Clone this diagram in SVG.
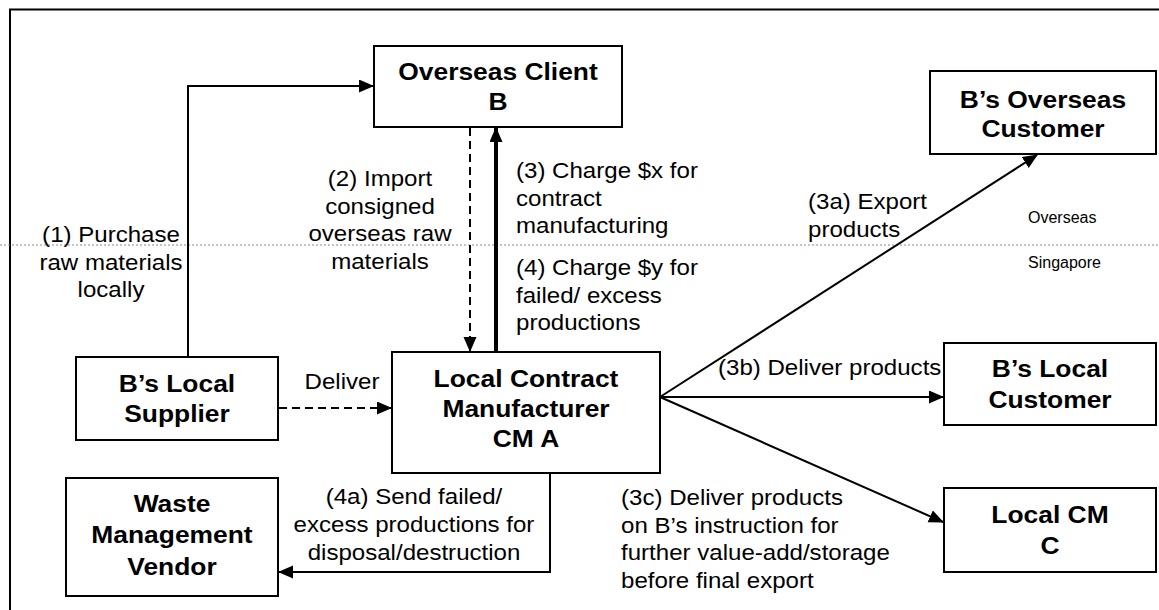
<svg xmlns="http://www.w3.org/2000/svg" width="1159" height="610" viewBox="0 0 1159 610">
<defs>
<marker id="ah" markerUnits="userSpaceOnUse" markerWidth="16" markerHeight="14" refX="14" refY="6.5" orient="auto">
<path d="M0,0 L15,6.5 L0,13 z" fill="#000"/>
</marker>
<style>
.box{fill:#fff;stroke:#000;stroke-width:2}
.b{font-family:"Liberation Sans",Arial,sans-serif;font-weight:bold;font-size:24px;text-anchor:middle;fill:#000}
.t{font-family:"Liberation Sans",Arial,sans-serif;font-size:21.5px;fill:#000}
.c{text-anchor:middle}
.s{font-family:"Liberation Sans",Arial,sans-serif;font-size:16px;fill:#000}
.ln{fill:none;stroke:#000;stroke-width:2}
.dash{stroke-dasharray:8 5}
</style>
</defs>
<rect width="1159" height="610" fill="#fff"/>
<path d="M10,612 V9.5 H1161" fill="none" stroke="#000" stroke-width="2"/>
<line x1="0" y1="245" x2="1159" y2="245" stroke="#8a8a8a" stroke-width="1.2" stroke-dasharray="2 2"/>

<g id="connectors">
<path class="ln" d="M188,357 V86 H373" marker-end="url(#ah)"/>
<path class="ln dash" d="M470,128 V351" marker-end="url(#ah)"/>
<path class="ln" style="stroke-width:4" d="M496,352 V128" marker-end="url(#ah)"/>
<path class="ln dash" d="M279,408 H391" marker-end="url(#ah)"/>
<path class="ln" d="M660,397 L1037,155" marker-end="url(#ah)"/>
<path class="ln" d="M660,397 H943" marker-end="url(#ah)"/>
<path class="ln" d="M660,397 L943,522" marker-end="url(#ah)"/>
<path class="ln" d="M550,474 V572 H279" marker-end="url(#ah)"/>
</g>

<g id="overseas-client">
<rect class="box" x="374" y="46" width="248" height="81"/>
<text class="b" transform="matrix(1.1 0 0 1 498 80)">Overseas Client</text>
<text class="b" transform="matrix(1.1 0 0 1 498 110)">B</text>
</g>
<g id="overseas-customer">
<rect class="box" x="930" y="71" width="226" height="83"/>
<text class="b" transform="matrix(1.1 0 0 1 1043 108)">B’s Overseas</text>
<text class="b" transform="matrix(1.1 0 0 1 1043 137)">Customer</text>
</g>
<g id="local-supplier">
<rect class="box" x="76" y="357" width="202" height="83"/>
<text class="b" transform="matrix(1.1 0 0 1 177 392)">B’s Local</text>
<text class="b" transform="matrix(1.1 0 0 1 177 422)">Supplier</text>
</g>
<g id="cm-a">
<rect class="box" x="392" y="352" width="268" height="121"/>
<text class="b" transform="matrix(1.1 0 0 1 526 387)">Local Contract</text>
<text class="b" transform="matrix(1.1 0 0 1 526 417)">Manufacturer</text>
<text class="b" transform="matrix(1.1 0 0 1 526 447)">CM A</text>
</g>
<g id="waste-vendor">
<rect class="box" x="66" y="478" width="212" height="118"/>
<text class="b" transform="matrix(1.1 0 0 1 172 512)">Waste</text>
<text class="b" transform="matrix(1.1 0 0 1 172 543)">Management</text>
<text class="b" transform="matrix(1.1 0 0 1 172 575)">Vendor</text>
</g>
<g id="local-customer">
<rect class="box" x="944" y="343" width="212" height="82"/>
<text class="b" transform="matrix(1.1 0 0 1 1050 377)">B’s Local</text>
<text class="b" transform="matrix(1.1 0 0 1 1050 408)">Customer</text>
</g>
<g id="local-cm-c">
<rect class="box" x="944" y="488" width="212" height="84"/>
<text class="b" transform="matrix(1.1 0 0 1 1050 523)">Local CM</text>
<text class="b" transform="matrix(1.1 0 0 1 1050 554)">C</text>
</g>

<g id="labels">
<text class="t c" transform="matrix(1.12 0 0 1 111 242)">(1) Purchase</text>
<text class="t c" transform="matrix(1.12 0 0 1 111 269.5)">raw materials</text>
<text class="t c" transform="matrix(1.12 0 0 1 111 297)">locally</text>
<text class="t c" transform="matrix(1.12 0 0 1 380 186)">(2) Import</text>
<text class="t c" transform="matrix(1.12 0 0 1 380 213.5)">consigned</text>
<text class="t c" transform="matrix(1.12 0 0 1 380 241)">overseas raw</text>
<text class="t c" transform="matrix(1.12 0 0 1 380 268.5)">materials</text>
<text class="t" transform="matrix(1.12 0 0 1 516 178)">(3) Charge $x for</text>
<text class="t" transform="matrix(1.12 0 0 1 516 205.5)">contract</text>
<text class="t" transform="matrix(1.12 0 0 1 516 233)">manufacturing</text>
<text class="t" transform="matrix(1.12 0 0 1 516 275)">(4) Charge $y for</text>
<text class="t" transform="matrix(1.12 0 0 1 516 302.5)">failed/ excess</text>
<text class="t" transform="matrix(1.12 0 0 1 516 330)">productions</text>
<text class="t" transform="matrix(1.12 0 0 1 808 209)">(3a) Export</text>
<text class="t" transform="matrix(1.12 0 0 1 808 236.5)">products</text>
<text class="s" x="1028" y="223">Overseas</text>
<text class="s" x="1028" y="268">Singapore</text>
<text class="t c" transform="matrix(1.12 0 0 1 342 389)">Deliver</text>
<text class="t" transform="matrix(1.12 0 0 1 718 375)">(3b) Deliver products</text>
<text class="t" transform="matrix(1.12 0 0 1 621 505)">(3c) Deliver products</text>
<text class="t" transform="matrix(1.12 0 0 1 621 532.5)">on B’s instruction for</text>
<text class="t" transform="matrix(1.12 0 0 1 621 560)">further value-add/storage</text>
<text class="t" transform="matrix(1.12 0 0 1 621 587.5)">before final export</text>
<text class="t c" transform="matrix(1.12 0 0 1 414 504)">(4a) Send failed/</text>
<text class="t c" transform="matrix(1.12 0 0 1 414 532)">excess productions for</text>
<text class="t c" transform="matrix(1.12 0 0 1 414 560)">disposal/destruction</text>
</g>
</svg>
